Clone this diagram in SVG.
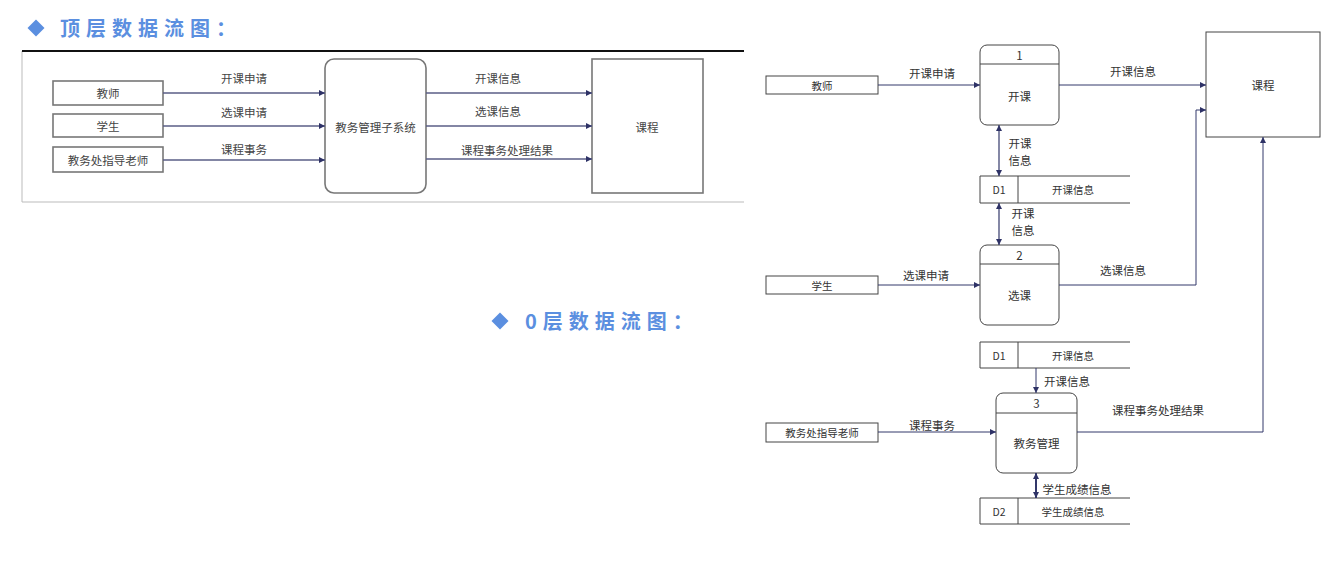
<svg xmlns="http://www.w3.org/2000/svg" width="1338" height="576" viewBox="0 0 1338 576">
<style>
text{font-family:"Noto Sans CJK SC","Liberation Sans",sans-serif;fill:#333;}
.title{font-size:20px;font-weight:bold;fill:#5B8FE0;letter-spacing:6px;}
.t1{font-size:11.5px;text-anchor:middle;dominant-baseline:central;fill:#444;}
.t2{font-size:11.5px;text-anchor:middle;dominant-baseline:central;}
.t3{font-size:10.5px;text-anchor:middle;dominant-baseline:central;}
.box1{fill:#fff;stroke:#777;stroke-width:1.6;}
.box2{fill:#fff;stroke:#444;stroke-width:1;}
.flow1{fill:none;stroke:#5a5e86;stroke-width:1.6;marker-end:url(#ah1);}
.flow2{fill:none;stroke:#33386a;stroke-width:1;marker-end:url(#ah2);}
.bi{fill:none;stroke:#33386a;stroke-width:1.2;marker-end:url(#ah2);marker-start:url(#ah2s);}
.ln{stroke:#444;stroke-width:1;fill:none;}
</style>
<defs>
<marker id="ah1" viewBox="0 0 10 10" refX="10" refY="5" markerWidth="4" markerHeight="4" orient="auto" markerUnits="strokeWidth"><path d="M0,0 L10,5 L0,10 z" fill="#2e3266"/></marker>
<marker id="ah2" viewBox="0 0 10 10" refX="10" refY="5" markerWidth="6" markerHeight="6" orient="auto" markerUnits="userSpaceOnUse"><path d="M0,0 L10,5 L0,10 z" fill="#2e3266"/></marker>
<marker id="ah2s" viewBox="0 0 10 10" refX="0" refY="5" markerWidth="6" markerHeight="6" orient="auto" markerUnits="userSpaceOnUse"><path d="M10,0 L0,5 L10,10 z" fill="#2e3266"/></marker>
<path id="dia" d="M0,-8.5 L8.5,0 L0,8.5 L-8.5,0 z" fill="#5B8FE0"/>
</defs>

<g id="title-top">
<use href="#dia" x="36" y="28"/>
<text class="title" x="60" y="36">顶层数据流图：</text>
</g>
<g id="title-0">
<use href="#dia" x="500" y="321"/>
<text class="title" x="525" y="329">0层数据流图：</text>
</g>

<g id="panel-top">
<rect x="22" y="51" width="722" height="151" fill="#fff" stroke="none"/>
<line x1="22" y1="51" x2="22" y2="202" stroke="#bbb" stroke-width="1"/>
<line x1="22" y1="202" x2="744" y2="202" stroke="#bbb" stroke-width="1"/>
<line x1="22" y1="51" x2="744" y2="51" stroke="#111" stroke-width="2.2"/>
</g>

<g id="top-teacher"><rect class="box1" x="53" y="81" width="110" height="24"/><text class="t1" x="108" y="93">教师</text></g>
<g id="top-student"><rect class="box1" x="53" y="114" width="110" height="23"/><text class="t1" x="108" y="126">学生</text></g>
<g id="top-office"><rect class="box1" x="53" y="147" width="110" height="25"/><text class="t1" x="108" y="160">教务处指导老师</text></g>
<g id="top-system"><rect class="box1" x="325" y="59" width="101" height="134" rx="9"/><text class="t1" x="375.5" y="127">教务管理子系统</text></g>
<g id="top-course"><rect class="box1" x="592" y="59" width="111" height="134"/><text class="t1" x="647" y="127">课程</text></g>

<g id="top-connectors">
<line class="flow1" x1="163" y1="93" x2="325" y2="93"/>
<line class="flow1" x1="163" y1="126" x2="325" y2="126"/>
<line class="flow1" x1="163" y1="160" x2="325" y2="160"/>
<line class="flow1" x1="426" y1="93" x2="592" y2="93"/>
<line class="flow1" x1="426" y1="126" x2="592" y2="126"/>
<line class="flow1" x1="426" y1="159" x2="592" y2="159"/>
<text class="t1" x="244" y="78">开课申请</text>
<text class="t1" x="244" y="112">选课申请</text>
<text class="t1" x="244" y="149">课程事务</text>
<text class="t1" x="498" y="78">开课信息</text>
<text class="t1" x="498" y="111">选课信息</text>
<text class="t1" x="507" y="150">课程事务处理结果</text>
</g>

<g id="teacher"><rect class="box2" x="766" y="76" width="112" height="18"/><text class="t3" x="822" y="85">教师</text></g>
<g id="student"><rect class="box2" x="766" y="276" width="112" height="18"/><text class="t3" x="822" y="285">学生</text></g>
<g id="office"><rect class="box2" x="766" y="423" width="112" height="19"/><text class="t3" x="822" y="432.5">教务处指导老师</text></g>

<g id="p1"><rect class="box2" x="980" y="45" width="79" height="80" rx="7"/><line class="ln" x1="980" y1="64" x2="1059" y2="64"/><text class="t2" x="1019.5" y="55">1</text><text class="t2" x="1019.5" y="96">开课</text></g>
<g id="p2"><rect class="box2" x="980" y="245" width="79" height="80" rx="7"/><line class="ln" x1="980" y1="264" x2="1059" y2="264"/><text class="t2" x="1019.5" y="255">2</text><text class="t2" x="1019.5" y="295">选课</text></g>
<g id="p3"><rect class="box2" x="996" y="393" width="81" height="80" rx="7"/><line class="ln" x1="996" y1="413" x2="1077" y2="413"/><text class="t2" x="1036.5" y="403">3</text><text class="t2" x="1036.5" y="443">教务管理</text></g>

<g id="d1a"><path class="ln" d="M1130,176 H980 V203 H1130 M1018,176 V203"/><text class="t3" x="999" y="189.5">D1</text><text class="t3" x="1073" y="189.5">开课信息</text></g>
<g id="d1b"><path class="ln" d="M1130,342 H980 V368 H1130 M1018,342 V368"/><text class="t3" x="999" y="355">D1</text><text class="t3" x="1073" y="355">开课信息</text></g>
<g id="d2"><path class="ln" d="M1130,498 H980 V524 H1130 M1018,498 V524"/><text class="t3" x="999" y="511">D2</text><text class="t3" x="1073" y="511">学生成绩信息</text></g>

<g id="course"><rect class="box2" x="1206" y="32" width="114" height="105"/><text class="t2" x="1263" y="85">课程</text></g>

<g id="connectors">
<line class="flow2" x1="878" y1="85" x2="980" y2="85"/>
<line class="flow2" x1="878" y1="285" x2="980" y2="285"/>
<line class="flow2" x1="878" y1="432" x2="996" y2="432"/>
<line class="bi" x1="999" y1="125" x2="999" y2="176"/>
<line class="bi" x1="999" y1="203" x2="999" y2="245"/>
<line class="flow2" x1="1036" y1="368" x2="1036" y2="393"/>
<line class="bi" x1="1036" y1="473" x2="1036" y2="498" style="stroke-width:2"/>
<line class="flow2" x1="1059" y1="85" x2="1206" y2="85"/>
<polyline class="flow2" points="1059,285 1196,285 1196,110 1206,110"/>
<polyline class="flow2" points="1077,432 1263,432 1263,137"/>
<text class="t2" x="932" y="73">开课申请</text>
<text class="t2" x="926" y="275">选课申请</text>
<text class="t2" x="932" y="425">课程事务</text>
<text class="t2" x="1020" y="143">开课</text>
<text class="t2" x="1020" y="160">信息</text>
<text class="t2" x="1023" y="213">开课</text>
<text class="t2" x="1023" y="230">信息</text>
<text class="t2" x="1067" y="381">开课信息</text>
<text class="t2" x="1077" y="489">学生成绩信息</text>
<text class="t2" x="1133" y="71">开课信息</text>
<text class="t2" x="1123" y="270">选课信息</text>
<text class="t2" x="1158" y="410">课程事务处理结果</text>
</g>
</svg>
